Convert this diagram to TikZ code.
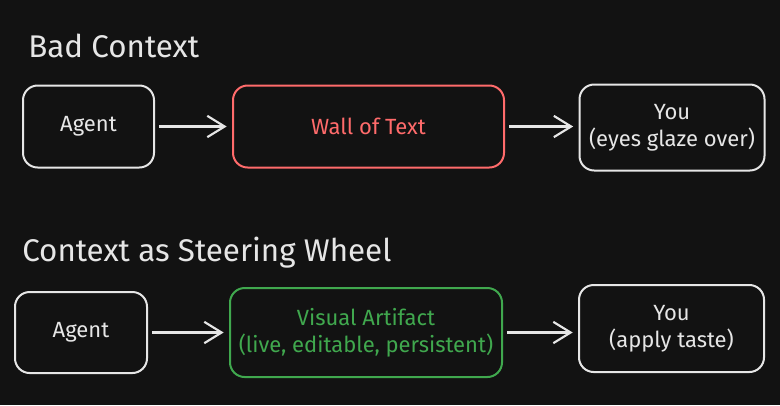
\documentclass[tikz,border=0pt]{standalone}
\usepackage{fontspec}
\setmainfont{Fira Sans}
\usetikzlibrary{arrows.meta,positioning}

\definecolor{bgdark}{HTML}{121212}
\definecolor{inkwhite}{HTML}{E6E6E6}
\definecolor{wallred}{HTML}{FF6B6B}
\definecolor{artgreen}{HTML}{40A84E}

\begin{document}
\begin{tikzpicture}[x=0.75pt,y=-0.75pt,
  box/.style={draw=inkwhite, line width=1.5pt, rounded corners=11pt,
    text=inkwhite, align=center, font=\fontsize{16.5}{20}\selectfont},
  redbox/.style={box, draw=wallred, text=wallred},
  greenbox/.style={box, draw=artgreen, text=artgreen},
  heading/.style={anchor=west, inner sep=0pt, text=inkwhite,
    font=\fontsize{23.5}{27}\selectfont},
  flow/.style={draw=inkwhite, line width=1.6pt,
    -{Straight Barb[length=13pt,width=16pt,line width=1.6pt]},
    shorten <=3pt, shorten >=4pt}
]
% background and page size
\fill[bgdark] (0,0) rectangle (780,405);
\useasboundingbox (0,0) rectangle (780,405);

% bad context
\node[heading] (badtitle) at (28,46) {Bad Context};
\node[box, minimum width=98.25pt, minimum height=61.5pt] (agentA) at (88.5,126.5) {Agent};
\node[redbox, minimum width=203.25pt, minimum height=61.5pt] (wall) at (368.5,126.5) {Wall of Text};
\node[box, minimum width=138.75pt, minimum height=64.5pt] (youA) at (672,127.5) {You\\(eyes glaze over)};
\draw[flow] (agentA.east) -- (agentA.east -| wall.west);
\draw[flow] (wall.east) -- (wall.east -| youA.west);

% steering wheel
\node[heading] (steertitle) at (22,253) {Context as Steering Wheel};
\node[box, minimum width=99pt, minimum height=60.75pt] (agentB) at (81,332.5) {Agent};
\node[greenbox, minimum width=204pt, minimum height=66.75pt] (artifact) at (366,332.5) {Visual Artifact\\(live, editable, persistent)};
\node[box, minimum width=138.75pt, minimum height=65.25pt] (youB) at (671.5,328.5) {You\\(apply taste)};
\draw[flow] (agentB.east) -- (agentB.east -| artifact.west);
\draw[flow] (artifact.east) -- (artifact.east -| youB.west);
\end{tikzpicture}
\end{document}
